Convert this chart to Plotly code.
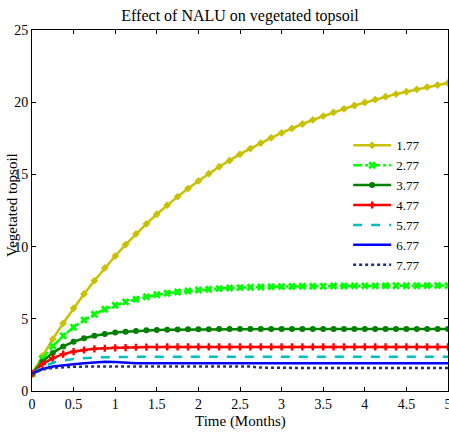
import plotly.graph_objects as go

time = [i * 0.125 for i in range(41)]

labels = ["1.77", "2.77", "3.77", "4.77", "5.77", "6.77", "7.77"]

s177 = [1.20, 2.43, 3.59, 4.69, 5.73, 6.72, 7.64, 8.52, 9.35, 10.14, 10.88,
        11.58, 12.24, 12.87, 13.46, 14.02, 14.55, 15.05, 15.53, 15.97, 16.40,
        16.79, 17.17, 17.53, 17.87, 18.19, 18.49, 18.77, 19.04, 19.30, 19.54,
        19.77, 19.98, 20.18, 20.38, 20.56, 20.73, 20.89, 21.05, 21.19, 21.33]
s277 = [1.20, 2.24, 3.11, 3.82, 4.42, 4.91, 5.32, 5.66, 5.94, 6.17, 6.36,
        6.52, 6.66, 6.77, 6.86, 6.93, 7.00, 7.05, 7.09, 7.13, 7.16,
        7.18, 7.20, 7.22, 7.23, 7.24, 7.25, 7.26, 7.26, 7.27, 7.27,
        7.28, 7.28, 7.28, 7.29, 7.29, 7.29, 7.29, 7.30, 7.30, 7.30]
s377 = [1.20, 2.03, 2.64, 3.09, 3.41, 3.65, 3.82, 3.95, 4.05, 4.11, 4.16,
        4.20, 4.23, 4.25, 4.26, 4.27, 4.28, 4.28, 4.29, 4.29, 4.29,
        4.30, 4.30, 4.30, 4.30, 4.30, 4.30, 4.30, 4.30, 4.30, 4.30,
        4.30, 4.30, 4.30, 4.30, 4.30, 4.30, 4.30, 4.30, 4.30, 4.30]
s477 = [1.20, 1.86, 2.28, 2.55, 2.73, 2.84, 2.92, 2.96, 2.99, 3.01, 3.03,
        3.04, 3.04, 3.05, 3.05, 3.05, 3.05, 3.05, 3.05, 3.05, 3.05,
        3.05, 3.05, 3.05, 3.05, 3.05, 3.05, 3.05, 3.05, 3.05, 3.05,
        3.05, 3.05, 3.05, 3.05, 3.05, 3.05, 3.05, 3.05, 3.05, 3.05]
s577 = [1.20, 1.66, 1.95, 2.12, 2.22, 2.28, 2.32, 2.34, 2.36, 2.37, 2.37,
        2.38, 2.38, 2.38, 2.38, 2.38, 2.38, 2.38, 2.38, 2.38, 2.38,
        2.38, 2.38, 2.38, 2.38, 2.38, 2.38, 2.38, 2.38, 2.38, 2.38,
        2.38, 2.38, 2.38, 2.38, 2.38, 2.38, 2.38, 2.38, 2.38, 2.38]
s677 = [1.20, 1.52, 1.70, 1.80, 1.86, 1.92, 1.98, 2.02, 2.01, 1.95, 1.93,
        1.92, 1.92, 1.92, 1.92, 1.92, 1.92, 1.92, 1.92, 1.92, 1.92,
        1.92, 1.92, 1.92, 1.92, 1.92, 1.92, 1.92, 1.92, 1.92, 1.92,
        1.92, 1.92, 1.92, 1.92, 1.92, 1.92, 1.92, 1.92, 1.92, 1.92]
s777 = [1.20, 1.48, 1.60, 1.66, 1.68, 1.69, 1.69, 1.69, 1.69, 1.69, 1.69,
        1.69, 1.69, 1.69, 1.69, 1.69, 1.69, 1.69, 1.69, 1.69, 1.69,
        1.69, 1.62, 1.60, 1.60, 1.60, 1.60, 1.60, 1.60, 1.60, 1.60,
        1.60, 1.60, 1.60, 1.60, 1.60, 1.60, 1.60, 1.60, 1.60, 1.60]

series = [s177, s277, s377, s477, s577, s677, s777]
colors = ["rgb(200,192,0)", "rgb(0,255,0)", "rgb(0,128,0)", "rgb(255,0,0)",
          "rgb(0,190,190)", "rgb(0,0,255)", "rgb(30,45,140)"]
dashes = ["solid", "dashdot", "solid", "solid", "dash", "solid", "dot"]
markers = ["diamond", "x", "circle", "cross", None, None, None]
msizes = [6, 7, 6, 6, 0, 0, 0]

x_ticks = [0, 0.5, 1, 1.5, 2, 2.5, 3, 3.5, 4, 4.5, 5]
x_ticktext = ["0", "0.5", "1", "1.5", "2", "2.5", "3", "3.5", "4", "4.5", "5"]
y_ticks = [0, 5, 10, 15, 20, 25]

FONT = "Liberation Serif, Times New Roman, serif"

fig = go.Figure()
for lab, ys, c, d, m, ms in zip(labels, series, colors, dashes, markers, msizes):
    if m is None:
        fig.add_trace(go.Scatter(x=time, y=ys, name=lab, mode="lines",
                                 line=dict(color=c, width=2.5, dash=d)))
    else:
        fig.add_trace(go.Scatter(x=time, y=ys, name=lab, mode="lines+markers",
                                 line=dict(color=c, width=2.5, dash=d),
                                 marker=dict(symbol=m, size=ms, color=c,
                                             line=dict(width=0))))

axis_common = dict(showgrid=False, zeroline=False, showline=True,
                   linecolor="black", linewidth=1, mirror="ticks",
                   ticks="inside", ticklen=4, tickcolor="black",
                   automargin=False, ticklabeloverflow="allow",
                   tickfont=dict(family=FONT, size=14, color="black"))

fig.update_layout(
    width=449, height=432,
    margin=dict(l=32, r=1, t=30, b=41, autoexpand=False),
    paper_bgcolor="white", plot_bgcolor="white",
    font=dict(family=FONT, color="black"),
    title=dict(text="Effect of NALU on vegetated topsoil", x=240 / 449,
               xanchor="center", y=1 - 15 / 432, yanchor="middle",
               font=dict(family=FONT, size=16, color="black")),
    xaxis=dict(range=[0, 5], tickvals=x_ticks, ticktext=x_ticktext, **axis_common),
    yaxis=dict(range=[0, 25], tickvals=y_ticks, **axis_common),
    legend=dict(x=0.76, y=0.722, xanchor="left", yanchor="top",
                bgcolor="rgba(0,0,0,0)", borderwidth=0,
                font=dict(family=FONT, size=13, color="black"),
                itemwidth=38, tracegroupgap=0),
    showlegend=True,
    annotations=[
        dict(text="Time (Months)", xref="paper", yref="paper",
             x=0.5, y=-(421 - 391) / 361, xanchor="center", yanchor="middle",
             showarrow=False, font=dict(family=FONT, size=15, color="black")),
        dict(text="Vegetated topsoil", xref="paper", yref="paper",
             x=-(32 - 12) / 416, y=(391 - 205) / 361, xanchor="center",
             yanchor="middle", textangle=-90, showarrow=False,
             font=dict(family=FONT, size=15, color="black")),
    ],
)

fig.write_html("out.html",
               config={"displayModeBar": False},
               post_script="document.body.style.margin='0';"
                           "document.body.style.overflow='hidden';")
